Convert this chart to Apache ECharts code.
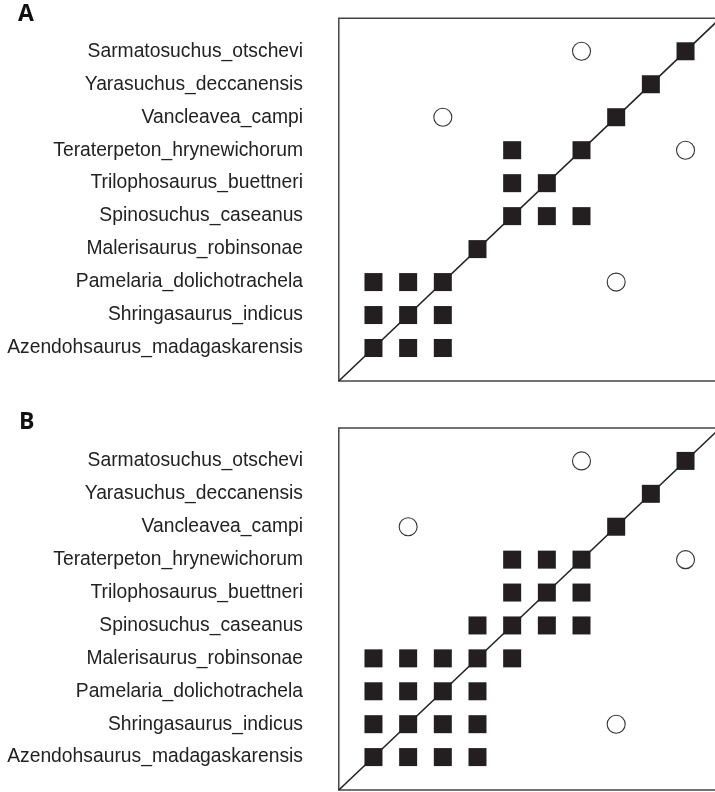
<!DOCTYPE html>
<html>
<head>
<meta charset="utf-8">
<script src="https://cdn.jsdelivr.net/npm/echarts@6/dist/echarts.min.js"></script>
<style>
html,body{margin:0;padding:0;background:#fff;overflow:hidden;width:715px;height:792px;}
#chart{width:730px;height:792px;}
</style>
</head>
<body>
<div id="chart"></div>
<script>
// Taxa, bottom row first
const taxa = [
  'Azendohsaurus_madagaskarensis',
  'Shringasaurus_indicus',
  'Pamelaria_dolichotrachela',
  'Malerisaurus_robinsonae',
  'Spinosuchus_caseanus',
  'Trilophosaurus_buettneri',
  'Teraterpeton_hrynewichorum',
  'Vancleavea_campi',
  'Yarasuchus_deccanensis',
  'Sarmatosuchus_otschevi'
];
const panelLabels = ['A', 'B'];

// [column index, row index] (0-based, into taxa)
const squaresA = [
  [0,0],[1,0],[2,0],
  [0,1],[1,1],[2,1],
  [0,2],[1,2],[2,2],
  [3,3],
  [4,4],[5,4],[6,4],
  [4,5],[5,5],
  [4,6],[6,6],
  [7,7],
  [8,8],
  [9,9]
];
const circlesA = [[7,2],[9,6],[2,7],[6,9]];

const squaresB = [
  [0,0],[1,0],[2,0],[3,0],
  [0,1],[1,1],[2,1],[3,1],
  [0,2],[1,2],[2,2],[3,2],
  [0,3],[1,3],[2,3],[3,3],[4,3],
  [3,4],[4,4],[5,4],[6,4],
  [4,5],[5,5],[6,5],
  [4,6],[5,6],[6,6],
  [7,7],
  [8,8],
  [9,9]
];
const circlesB = [[7,1],[9,6],[1,7],[6,9]];

const axisMax = taxa.length + 1;
const toCoord = p => [p[0] + 1, p[1] + 1];

const chart = echarts.init(document.getElementById('chart'));

const grids = [
  {left: 338.8, width: 381.4, top: 18.3, bottom: 411},
  {left: 338.8, width: 381.4, top: 428, bottom: 2}
].map(g => Object.assign({show: true, borderColor: '#444', borderWidth: 1.5, backgroundColor: 'transparent'}, g));

const xAxes = [0,1].map(i => ({
  type: 'value', gridIndex: i, min: 0, max: axisMax, interval: 1,
  axisLine: {show: false}, axisTick: {show: false}, axisLabel: {show: false}, splitLine: {show: false}
}));
const yAxes = [0,1].map(i => ({
  type: 'value', gridIndex: i, min: 0, max: axisMax, interval: 1,
  axisLine: {show: false}, axisTick: {show: false}, splitLine: {show: false},
  axisLabel: {
    show: true, margin: 35.8, color: '#222',
    fontFamily: 'Liberation Sans, Arial, sans-serif', fontSize: 19.3,
    formatter: v => taxa[v - 1] || ''
  }
}));

function panelSeries(i, squares, circles) {
  return [
    {
      type: 'line', xAxisIndex: i, yAxisIndex: i, symbol: 'none', silent: true,
      lineStyle: {color: '#222', width: 1.6}, z: 2,
      data: [[0, 0], [axisMax, axisMax]]
    },
    {
      type: 'scatter', xAxisIndex: i, yAxisIndex: i, symbol: 'rect', symbolSize: 18,
      itemStyle: {color: '#231f20', opacity: 1}, z: 3,
      data: squares.map(toCoord)
    },
    {
      type: 'scatter', xAxisIndex: i, yAxisIndex: i, symbol: 'circle', symbolSize: 18,
      itemStyle: {color: '#fff', borderColor: '#333', borderWidth: 1.1, opacity: 1}, z: 3,
      data: circles.map(toCoord)
    }
  ];
}

chart.setOption({
  animation: false,
  backgroundColor: '#fff',
  title: [
    {text: panelLabels[0], left: 18, top: 3, padding: 0,
     textStyle: {fontFamily: 'Open Sans, Liberation Sans, sans-serif', fontWeight: 'bold', fontSize: 23, color: '#111'}},
    {text: panelLabels[1], left: 19, top: 411, padding: 0,
     textStyle: {fontFamily: 'Open Sans, Liberation Sans, sans-serif', fontWeight: 'bold', fontSize: 23, color: '#111'}}
  ],
  grid: grids,
  xAxis: xAxes,
  yAxis: yAxes,
  series: [].concat(panelSeries(0, squaresA, circlesA), panelSeries(1, squaresB, circlesB))
});
</script>
</body>
</html>
